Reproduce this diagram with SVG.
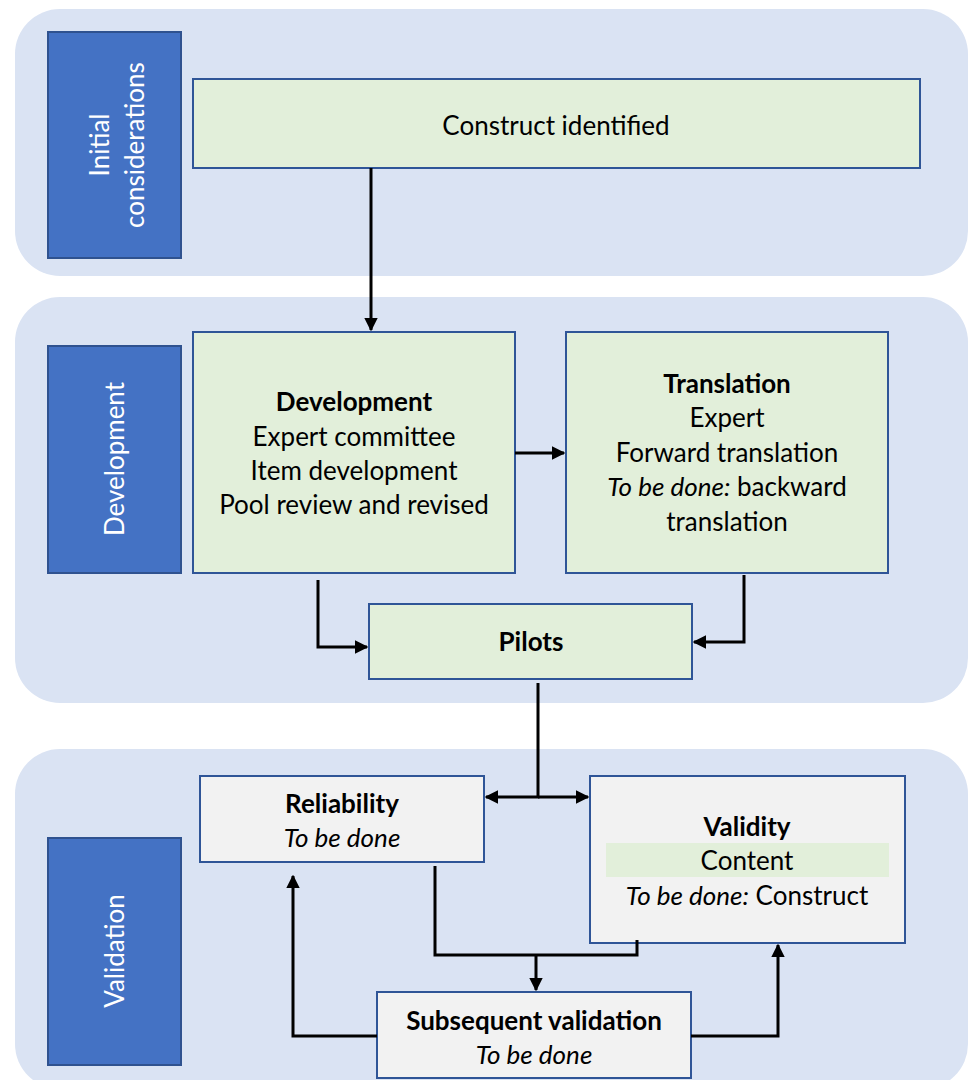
<svg xmlns="http://www.w3.org/2000/svg" width="968" height="1080" viewBox="0 0 968 1080">
<style>
.panel{fill:#DAE3F3}
.lbl{fill:#4472C4;stroke:#2F528F;stroke-width:2}
.lt{fill:#fff;font-family:Lato,"Open Sans",sans-serif;font-size:26px;text-anchor:middle}
.g{fill:#E2EFDA;stroke:#2F5597;stroke-width:2}
.w{fill:#F2F2F2;stroke:#2F5597;stroke-width:2}
.t{font-family:Lato,"Open Sans",sans-serif;font-size:26px;fill:#000;text-anchor:middle}
.b{font-weight:bold}
.i{font-style:italic}
.c{fill:none;stroke:#000;stroke-width:3}
</style>
<defs>
<marker id="ah" viewBox="0 0 10 10" refX="9" refY="5" markerWidth="4.5" markerHeight="4.5" orient="auto" markerUnits="strokeWidth">
<path d="M0,0 L10,5 L0,10 z" fill="#000"/>
</marker>
</defs>
<g id="panels">
<rect class="panel" x="15" y="9" width="953" height="267" rx="45"/>
<rect class="panel" x="15" y="297" width="953" height="406" rx="45"/>
<rect class="panel" x="15" y="749" width="953" height="340" rx="45"/>
</g>
<g id="label-initial">
<rect class="lbl" x="48" y="32" width="133" height="226"/>
<text class="lt" transform="translate(114.5,145) rotate(-90)"><tspan x="0" y="-6">Initial</tspan><tspan x="0" y="29">considerations</tspan></text>
</g>
<g id="label-development">
<rect class="lbl" x="48" y="346" width="133" height="227"/>
<text class="lt" transform="translate(114.5,459) rotate(-90)" y="9">Development</text>
</g>
<g id="label-validation">
<rect class="lbl" x="48" y="838" width="133" height="227"/>
<text class="lt" transform="translate(114.5,951) rotate(-90)" y="9">Validation</text>
</g>
<g id="construct">
<rect class="g" x="193" y="79" width="727" height="89"/>
<text class="t" x="556" y="135">Construct identified</text>
</g>
<g id="development">
<rect class="g" x="193" y="332" width="322" height="241"/>
<text class="t"><tspan class="b" x="354" y="411">Development</tspan><tspan x="354" y="446">Expert committee</tspan><tspan x="354" y="480">Item development</tspan><tspan x="354" y="514">Pool review and revised</tspan></text>
</g>
<g id="translation">
<rect class="g" x="566" y="332" width="322" height="241"/>
<text class="t"><tspan class="b" x="727" y="393">Translation</tspan><tspan x="727" y="427">Expert</tspan><tspan x="727" y="462">Forward translation</tspan><tspan x="727" y="496"><tspan class="i">To be done:</tspan> backward</tspan><tspan x="727" y="531">translation</tspan></text>
</g>
<g id="pilots">
<rect class="g" x="369" y="604" width="323" height="75"/>
<text class="t b" x="531" y="651">Pilots</text>
</g>
<g id="reliability">
<rect class="w" x="200" y="776" width="284" height="86"/>
<text class="t"><tspan class="b" x="342" y="813">Reliability</tspan><tspan class="i" x="342" y="847">To be done</tspan></text>
</g>
<g id="validity">
<rect class="w" x="590" y="776" width="315" height="167"/>
<rect x="606" y="843" width="283" height="34" fill="#E2EFDA"/>
<text class="t"><tspan class="b" x="747" y="836">Validity</tspan><tspan x="747" y="870">Content</tspan><tspan x="747" y="905"><tspan class="i">To be done:</tspan> Construct</tspan></text>
</g>
<g id="subsequent">
<rect class="w" x="377" y="992" width="314" height="86"/>
<text class="t"><tspan class="b" x="534" y="1030">Subsequent validation</tspan><tspan class="i" x="534" y="1064">To be done</tspan></text>
</g>
<g id="connectors">
<path class="c" d="M371,168 V330" marker-end="url(#ah)"/>
<path class="c" d="M515,453 H564" marker-end="url(#ah)"/>
<path class="c" d="M318,580 V647 H367" marker-end="url(#ah)"/>
<path class="c" d="M744,575 V642 H694" marker-end="url(#ah)"/>
<path class="c" d="M538,683 V797 H486" marker-end="url(#ah)"/>
<path class="c" d="M538,797 H588" marker-end="url(#ah)"/>
<path class="c" d="M435,866 V955 H637 V940"/>
<path class="c" d="M536,955 V990" marker-end="url(#ah)"/>
<path class="c" d="M377,1036 H293 V876" marker-end="url(#ah)"/>
<path class="c" d="M691,1036 H778 V945" marker-end="url(#ah)"/>
</g>
</svg>
